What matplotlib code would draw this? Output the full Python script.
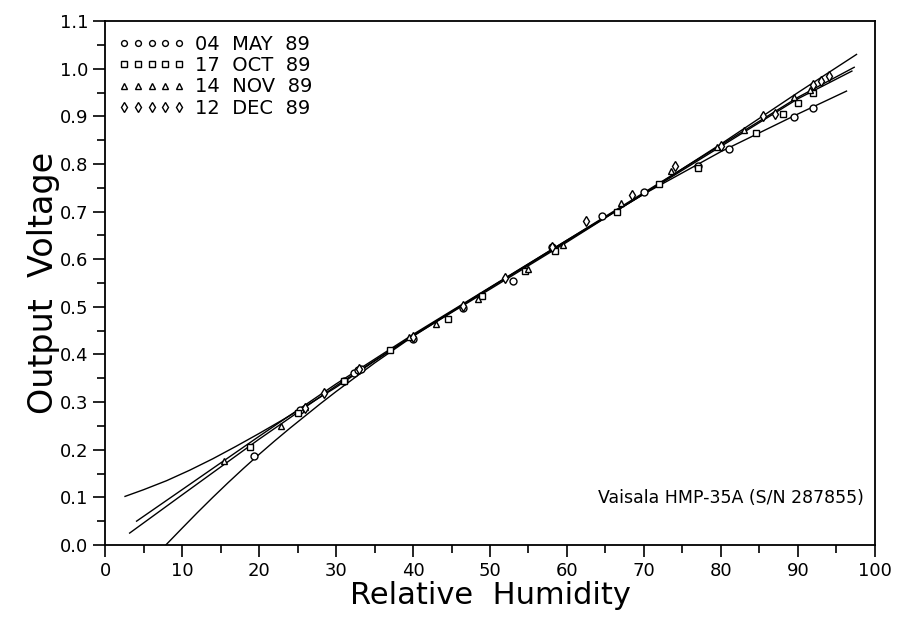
import numpy as np
import matplotlib
matplotlib.use('Agg')
import matplotlib.pyplot as plt
from matplotlib.lines import Line2D
from matplotlib.ticker import MultipleLocator, FormatStrFormatter

plt.rcParams['font.family'] = ['DejaVu Sans']

# measured points (relative humidity, output voltage)
may_rh = [19.3, 25.3, 31.0, 32.3, 32.8, 33.3, 40.0, 46.5, 53.0, 58.0, 64.5, 70.0, 77.0, 81.0, 89.5, 92.0]
may_v = [0.187, 0.283, 0.345, 0.362, 0.367, 0.370, 0.432, 0.497, 0.555, 0.625, 0.690, 0.742, 0.795, 0.832, 0.898, 0.918]
oct_rh = [18.8, 25.0, 31.0, 37.0, 44.5, 49.0, 54.5, 58.5, 66.5, 72.0, 77.0, 84.5, 88.0, 90.0, 92.0]
oct_v = [0.205, 0.278, 0.345, 0.410, 0.475, 0.522, 0.575, 0.617, 0.700, 0.758, 0.792, 0.865, 0.905, 0.928, 0.950]
nov_rh = [15.5, 22.8, 26.0, 39.5, 43.0, 48.5, 55.0, 59.5, 67.0, 73.5, 79.5, 83.0, 89.5, 91.5]
nov_v = [0.177, 0.250, 0.290, 0.437, 0.463, 0.517, 0.580, 0.630, 0.718, 0.785, 0.835, 0.872, 0.940, 0.955]
dec_rh = [26.0, 28.5, 33.0, 40.0, 46.5, 52.0, 58.0, 62.5, 68.5, 74.0, 80.0, 85.5, 87.0, 92.0, 93.0, 94.0]
dec_v = [0.288, 0.320, 0.370, 0.437, 0.502, 0.560, 0.625, 0.680, 0.735, 0.795, 0.838, 0.900, 0.905, 0.965, 0.975, 0.985]

# calibration curves
may_fit_rh = [7.9, 10, 12, 14, 16, 18, 20, 22, 24, 26, 28, 30, 35, 40, 50, 60, 70, 80, 90, 96.3]
may_fit_v = [0.0, 0.035, 0.068, 0.100, 0.131, 0.161, 0.190, 0.218, 0.245, 0.271, 0.297, 0.322, 0.382, 0.438, 0.540, 0.640, 0.737, 0.826, 0.905, 0.953]
oct_fit_rh = [3.2, 10, 20, 30, 40, 50, 60, 70, 80, 90, 97.0]
oct_fit_v = [0.025, 0.105, 0.222, 0.334, 0.440, 0.540, 0.638, 0.737, 0.837, 0.937, 0.995]
nov_fit_rh = [4.1, 10, 20, 30, 40, 50, 60, 70, 80, 90, 97.3]
nov_fit_v = [0.050, 0.116, 0.228, 0.338, 0.442, 0.541, 0.640, 0.740, 0.840, 0.940, 1.003]
dec_fit_rh = [2.6, 5, 8, 11, 14, 17, 20, 23, 26, 30, 35, 40, 50, 60, 70, 80, 90, 97.6]
dec_fit_v = [0.102, 0.116, 0.135, 0.157, 0.181, 0.207, 0.234, 0.262, 0.291, 0.331, 0.386, 0.439, 0.537, 0.636, 0.738, 0.842, 0.950, 1.030]

labels = ['04  MAY  89', '17  OCT  89', '14  NOV  89', '12  DEC  89']
markers = ['o', 's', '^', 'd']
msizes = [5, 4.5, 4.5, 5.5]

fig = plt.figure(figsize=(8.99, 6.2), dpi=100)
ax = fig.add_axes([0.1168, 0.121, 0.8565, 0.845])

series = [(may_rh, may_v, may_fit_rh, may_fit_v),
          (oct_rh, oct_v, oct_fit_rh, oct_fit_v),
          (nov_rh, nov_v, nov_fit_rh, nov_fit_v),
          (dec_rh, dec_v, dec_fit_rh, dec_fit_v)]

handles = []
for (rh, v, frh, fv), mk, ms, lab in zip(series, markers, msizes, labels):
    ax.plot(frh, fv, color='black', lw=1.0, zorder=2)
    ax.plot(rh, v, linestyle='none', marker=mk, ms=ms, mfc='white',
            mec='black', mew=1.0, zorder=3)
    handles.append(Line2D([], [], linestyle='none', marker=mk, ms=ms - 0.8,
                          mfc='white', mec='black', mew=1.0, label=lab))

leg = ax.legend(handles=handles, loc='upper left', numpoints=5,
                handlelength=3.4, handletextpad=0.55, frameon=False,
                fontsize=14, labelspacing=0.12, borderaxespad=0.3,
                bbox_to_anchor=(0.0, 1.0))

ax.text(0.985, 0.09, 'Vaisala HMP-35A (S/N 287855)', transform=ax.transAxes,
        ha='right', va='center', fontsize=12.5)

ax.set_xlim(0, 100)
ax.set_ylim(0, 1.1)
ax.xaxis.set_major_locator(MultipleLocator(10))
ax.xaxis.set_minor_locator(MultipleLocator(5))
ax.yaxis.set_major_locator(MultipleLocator(0.1))
ax.yaxis.set_minor_locator(MultipleLocator(0.05))
ax.yaxis.set_major_formatter(FormatStrFormatter('%.1f'))
ax.tick_params(which='major', direction='out', length=8.5, width=1.2,
               labelsize=13, top=False, right=False)
ax.tick_params(which='minor', direction='out', length=5.5, width=1.2,
               top=False, right=False)
for s in ax.spines.values():
    s.set_linewidth(1.3)

ax.set_xlabel('Relative  Humidity', fontsize=22, labelpad=1)
ax.set_ylabel('Output  Voltage', fontsize=24, labelpad=0)

fig.savefig('out.png', dpi=100)
